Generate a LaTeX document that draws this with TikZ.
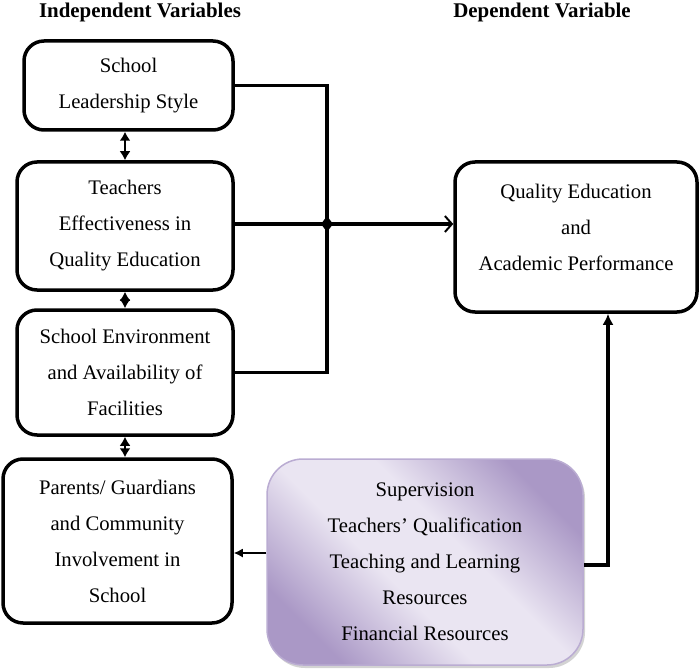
\documentclass[tikz,border=0pt]{standalone}
\usepackage{fontspec}
\setmainfont{Liberation Serif}
\usetikzlibrary{arrows.meta,positioning,shadows}
\definecolor{lavdark}{RGB}{170,152,198}
\definecolor{lavlight}{RGB}{234,229,242}
\definecolor{lavedge}{RGB}{186,172,210}
\pgfdeclarehorizontalshading{lavband}{100bp}{color(0bp)=(lavdark); color(25bp)=(lavdark); color(43bp)=(lavlight); color(57bp)=(lavlight); color(75bp)=(lavdark); color(100bp)=(lavdark)}

\begin{document}
\begin{tikzpicture}[x=1pt,y=-1pt,
    box/.style={draw,line width=3.5pt,rounded corners=20pt,align=center,inner sep=0pt,
      font=\fontsize{20.7}{36}\selectfont},
    head/.style={font=\fontsize{20.9}{24}\selectfont\bfseries},
    conn/.style={line width=3.5pt},
    dbl/.style={line width=1.8pt,{Latex[length=9pt,width=11pt]}-{Latex[length=9pt,width=11pt]}}]
        \useasboundingbox (0,0) rectangle (700,668);

        \node[head] (indep) at (140,12) {Independent Variables};
        \node[head] (dep) at (542,12) {Dependent Variable};

        \node[box,minimum width=209pt,minimum height=89pt] (var1) at (128.5,85.5) {School\\Leadership Style};
        \node[box,minimum width=216pt,minimum height=128pt] (var2) at (125,226) {Teachers\\Effectiveness in\\Quality Education};
        \node[box,minimum width=216pt,minimum height=125pt] (var3) at (125,372.5) {School Environment\\and Availability of\\Facilities};
        \node[box,minimum width=229pt,minimum height=164pt] (var4) at (117.5,541) {Parents/ Guardians\\and Community\\Involvement in\\School};

        \node[box,minimum width=242pt,minimum height=150pt,text depth=20pt] (out) at (576,237) {Quality Education\\and\\Academic Performance};

        \node[box,draw=lavedge,line width=1.5pt,rounded corners=36pt,shading=lavband,shading angle=45,
          drop shadow={shadow xshift=2pt,shadow yshift=-3pt,opacity=.35},
          minimum width=316pt,minimum height=206pt] (mod) at (425,562) {Supervision\\Teachers’ Qualification\\Teaching and Learning\\Resources\\Financial Resources};

        % links between independent variables
        \foreach \from/\to in {var1/var2,var2/var3,var3/var4}
        \draw[dbl] (var2.north |- \from.south) -- (var2.north |- \to.north);

        % bus to the dependent variable
        \coordinate (jn) at (327,224);
        \draw[conn] (var1.east) -- (var1.east -| jn) -- (var3.east -| jn) -- (var3.east);
        \draw[conn,-{Straight Barb[line width=2pt,length=7pt,width=16pt]}] (var2.east |- jn) -- (out.west |- jn);
        \fill (jn) +(0,-8) -- +(6,0) -- +(0,8) -- +(-6,0) -- cycle;

        % moderating factors
        \draw[line width=1.5pt,-{Latex[length=9pt,width=9pt]}] ([yshift=9pt]mod.west) -- ([yshift=9pt]mod.west -| var4.east);
        \draw[conn,-{Latex[length=11pt,width=11pt]}] ([yshift=-3pt]mod.east) -| ([xshift=32pt]out.south);
      \end{tikzpicture}
\end{document}
